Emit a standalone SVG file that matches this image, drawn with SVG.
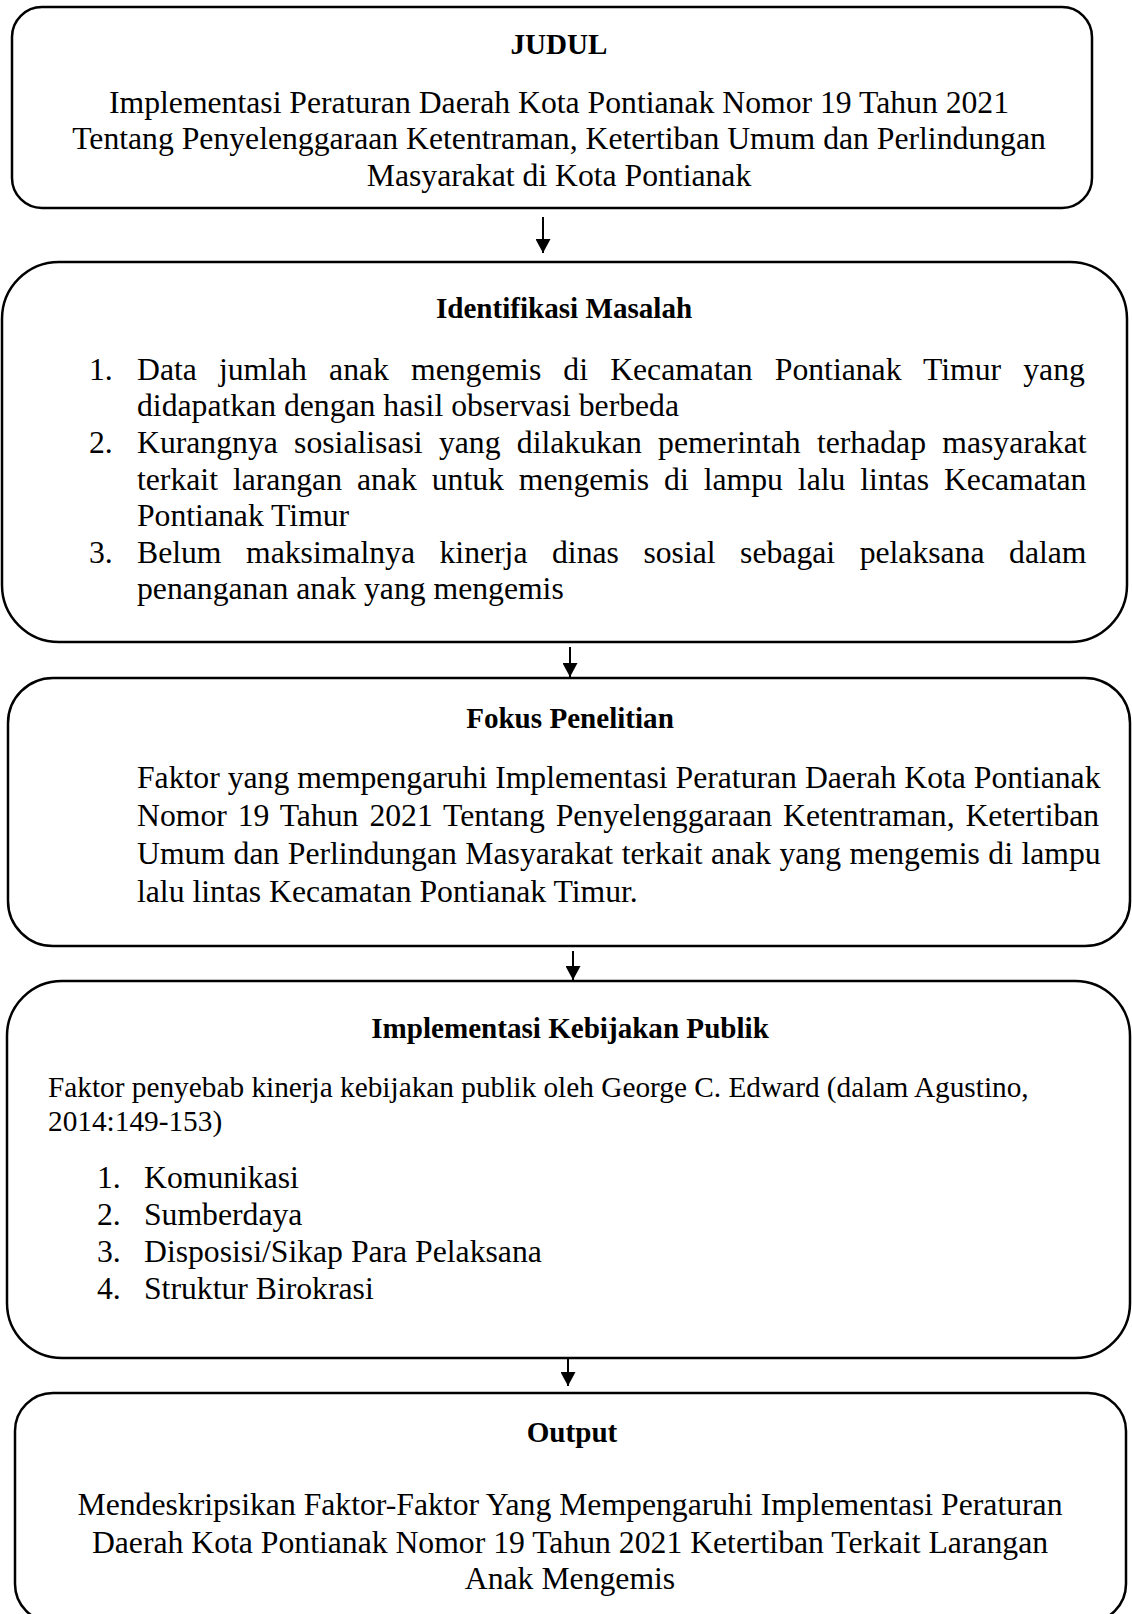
<svg xmlns="http://www.w3.org/2000/svg" width="1132" height="1614" viewBox="0 0 1132 1614">
<style>
.box{fill:#fff;stroke:#000;stroke-width:2.5}
text{font-family:"Liberation Serif","Times New Roman",serif;fill:#000}
.t{font-size:29.1px;font-weight:bold;text-anchor:middle}
.b{font-size:31.7px}
.c{font-size:31.7px;text-anchor:middle}
.s{font-size:29.3px}
.conn line{stroke:#000;stroke-width:2}
</style>
<defs>
<marker id="ah" markerUnits="userSpaceOnUse" markerWidth="15" markerHeight="15" refX="14" refY="7.5" orient="auto">
<path d="M0,0 L14,7.5 L0,15 z" fill="#000"/>
</marker>
</defs>
<rect width="1132" height="1614" fill="#fff"/>

<g id="judul">
<rect class="box" x="12" y="7" width="1080" height="201" rx="30"/>
<text class="t" x="559" y="54">JUDUL</text>
<text class="c" x="559" y="113">Implementasi Peraturan Daerah Kota Pontianak Nomor 19 Tahun 2021</text>
<text class="c" x="559" y="149">Tentang Penyelenggaraan Ketentraman, Ketertiban Umum dan Perlindungan</text>
<text class="c" x="559" y="186">Masyarakat di Kota Pontianak</text>
</g>

<g id="identifikasi">
<rect class="box" x="2" y="262" width="1125" height="380" rx="57"/>
<text class="t" x="564" y="318">Identifikasi Masalah</text>
<text class="b" x="89" y="380">1.</text>
<text class="b" x="137" y="380" word-spacing="14.2">Data jumlah anak mengemis di Kecamatan Pontianak Timur yang</text>
<text class="b" x="137" y="416">didapatkan dengan hasil observasi berbeda</text>
<text class="b" x="89" y="453">2.</text>
<text class="b" x="137" y="453" word-spacing="8.38">Kurangnya sosialisasi yang dilakukan pemerintah terhadap masyarakat</text>
<text class="b" x="137" y="490" word-spacing="7.04">terkait larangan anak untuk mengemis di lampu lalu lintas Kecamatan</text>
<text class="b" x="137" y="526">Pontianak Timur</text>
<text class="b" x="89" y="563">3.</text>
<text class="b" x="137" y="563" word-spacing="16.6">Belum maksimalnya kinerja dinas sosial sebagai pelaksana dalam</text>
<text class="b" x="137" y="599">penanganan anak yang mengemis</text>
</g>

<g id="fokus">
<rect class="box" x="8" y="678" width="1122" height="268" rx="45"/>
<text class="t" x="570" y="728">Fokus Penelitian</text>
<text class="b" x="137" y="788">Faktor yang mempengaruhi Implementasi Peraturan Daerah Kota Pontianak</text>
<text class="b" x="137" y="826" word-spacing="3.0">Nomor 19 Tahun 2021 Tentang Penyelenggaraan Ketentraman, Ketertiban</text>
<text class="b" x="137" y="864" word-spacing="0.6">Umum dan Perlindungan Masyarakat terkait anak yang mengemis di lampu</text>
<text class="b" x="137" y="902">lalu lintas Kecamatan Pontianak Timur.</text>
</g>

<g id="implementasi">
<rect class="box" x="7" y="981" width="1123" height="377" rx="55"/>
<text class="t" x="570" y="1038">Implementasi Kebijakan Publik</text>
<text class="s" x="48" y="1097">Faktor penyebab kinerja kebijakan publik oleh George C. Edward (dalam Agustino,</text>
<text class="s" x="48" y="1131">2014:149-153)</text>
<text class="b" x="97" y="1188">1.</text>
<text class="b" x="144" y="1188">Komunikasi</text>
<text class="b" x="97" y="1225">2.</text>
<text class="b" x="144" y="1225">Sumberdaya</text>
<text class="b" x="97" y="1262">3.</text>
<text class="b" x="144" y="1262">Disposisi/Sikap Para Pelaksana</text>
<text class="b" x="97" y="1299">4.</text>
<text class="b" x="144" y="1299">Struktur Birokrasi</text>
</g>

<g id="output">
<rect class="box" x="15" y="1393" width="1111" height="229" rx="38"/>
<text class="t" x="572" y="1442">Output</text>
<text class="c" x="570" y="1515">Mendeskripsikan Faktor-Faktor Yang Mempengaruhi Implementasi Peraturan</text>
<text class="c" x="570" y="1553">Daerah Kota Pontianak Nomor 19 Tahun 2021 Ketertiban Terkait Larangan</text>
<text class="c" x="570" y="1589">Anak Mengemis</text>
</g>

<g id="connectors" class="conn">
<line x1="543" y1="217" x2="543" y2="253" marker-end="url(#ah)"/>
<line x1="570" y1="647" x2="570" y2="677" marker-end="url(#ah)"/>
<line x1="573" y1="951" x2="573" y2="980" marker-end="url(#ah)"/>
<line x1="568" y1="1358" x2="568" y2="1386" marker-end="url(#ah)"/>
</g>
</svg>
